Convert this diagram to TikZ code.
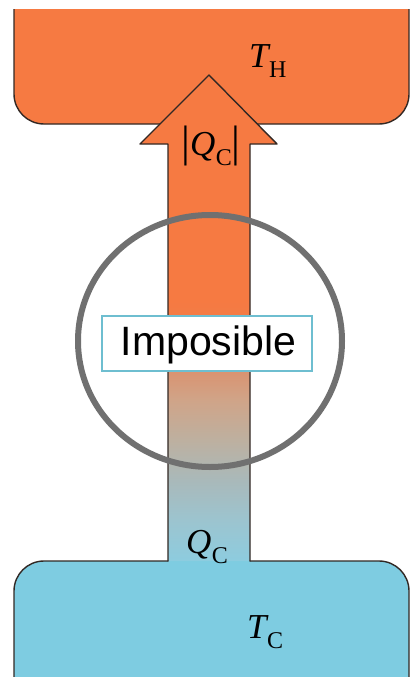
\documentclass[tikz,border=0pt]{standalone}
\usepackage{fontspec}
\setmainfont{Liberation Serif}
\newfontfamily\labelsans{Liberation Sans}
\definecolor{hot}{RGB}{246,122,66}
\definecolor{cold}{RGB}{126,204,225}
\definecolor{edge}{RGB}{50,40,36}
\definecolor{ringgray}{RGB}{112,112,112}
\definecolor{boxblue}{RGB}{110,190,208}
\definecolor{gA}{RGB}{141,204,223}
\definecolor{gB}{RGB}{156,196,207}
\definecolor{gC}{RGB}{169,185,186}
\definecolor{gD}{RGB}{189,176,160}
\definecolor{gE}{RGB}{208,164,136}
\definecolor{gF}{RGB}{217,148,114}
\definecolor{gG}{RGB}{240,124,72}
\pgfdeclareverticalshading{heatflow}{100bp}{%
  color(0bp)=(gA);
  color(25bp)=(gA);
  color(29.2bp)=(gB);
  color(33.3bp)=(gC);
  color(37.4bp)=(gD);
  color(41.6bp)=(gE);
  color(44.4bp)=(gF);
  color(48.8bp)=(gG);
  color(51.8bp)=(hot);
  color(75bp)=(hot);
  color(100bp)=(hot)}
\newcommand{\heatlabel}[2]{{\itshape #1}\kern0.5pt\raisebox{-10pt}{\fontsize{24}{24}\selectfont #2}}
\tikzset{
  outline/.style={draw=edge, line width=1.4pt, line cap=round, line join=round},
  lbl/.style={inner sep=0pt, anchor=base west, font=\fontsize{35}{35}\selectfont},
}
\begin{document}
\begin{tikzpicture}[x=1pt,y=-1pt]
\useasboundingbox (0,0) rectangle (410,677);
\fill[white] (0,0) rectangle (410,677);
% hot reservoir (top edge cut at y=10)
\begin{scope}
\clip (0,10) rectangle (410,677);
\fill[hot, rounded corners=30pt] (14,-60) -- (14,124) -- (409,124) -- (409,-60) -- cycle;
\draw[outline, rounded corners=30pt] (14,-60) -- (14,124) -- (409,124) -- (409,-60);
\end{scope}
% cold reservoir
\fill[cold, rounded corners=30pt] (14,740) -- (14,561) -- (409,561) -- (409,740) -- cycle;
% arrow
\shade[shading=heatflow] (168,561) -- (168,144) -- (140,144) -- (209,75) -- (277,144) -- (250,144) -- (250,561) -- cycle;
\draw[outline, rounded corners=30pt] (14,740) -- (14,561) -- (168,561);
\draw[outline] (168,561) -- (168,144) -- (140,144) -- (209,75) -- (277,144) -- (250,144) -- (250,561);
\draw[outline, rounded corners=30pt] (250,561) -- (409,561) -- (409,740);
% labels
\node[lbl] (th) at (249,67) {\heatlabel{T}{H}};
\node[lbl] (qtop) at (181,155) {{\fontsize{44}{44}\selectfont\raisebox{-1pt}{|}}\heatlabel{Q}{C}{\fontsize{44}{44}\selectfont\raisebox{-1pt}{|}}};
\node[lbl] (qbot) at (186,553) {\heatlabel{Q}{C}};
\node[lbl] (tc) at (247,638) {\heatlabel{T}{C}};
% impossible ring
\draw[ringgray, line width=6pt] (210,341) ellipse [x radius=132pt, y radius=126pt];
\node[draw=boxblue, line width=2pt, fill=white, minimum width=210pt, minimum height=55pt, inner sep=0pt] (box) at (207,343.5) {};
\node[inner sep=0pt, anchor=base, font=\labelsans\fontsize{41}{41}\selectfont] (imp) at (208.5,355) {Imposible};
\end{tikzpicture}
\end{document}
